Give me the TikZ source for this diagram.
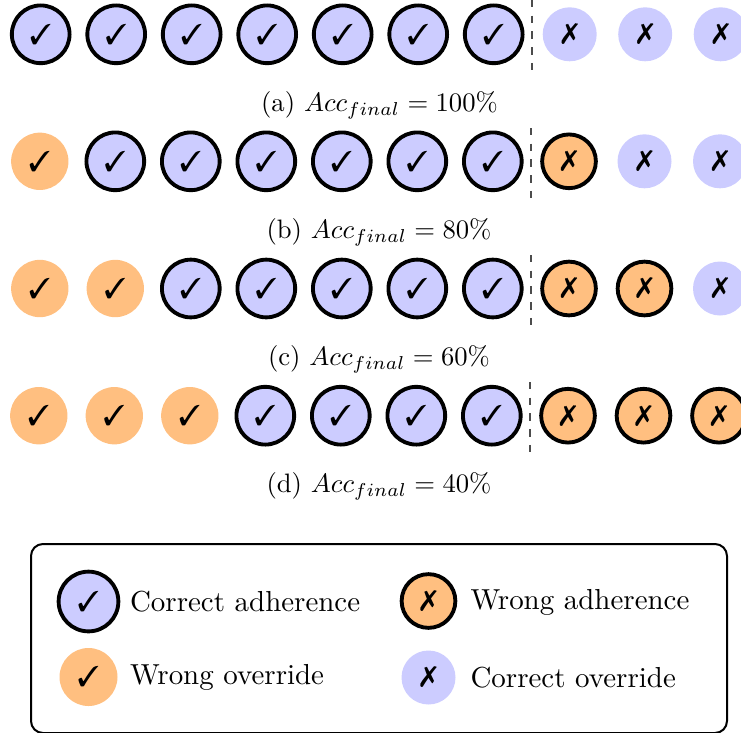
\documentclass[tikz,border=0pt]{standalone}
\usepackage{pifont}
\definecolor{blu}{RGB}{204,204,255}
\definecolor{org}{RGB}{255,191,128}
\tikzset{
  x=0.75pt,y=-0.75pt,
  mk/.style={circle,inner sep=0pt,minimum size=40.5pt,text=black},
  ca/.style={mk,fill=blu,draw=black,line width=2.9pt,minimum size=43.3pt},
  wo/.style={mk,fill=org,minimum size=43pt},
  wa/.style={mk,fill=org,draw=black,line width=2.9pt,minimum size=40.3pt},
  co/.style={mk,fill=blu},
  captxt/.style={anchor=base,inner sep=0pt,scale=2.0,text=black},
  legt/.style={anchor=base west,inner sep=0pt,scale=2.17,text=black},
  sep/.style={draw=black!70,line width=0.8pt,dash pattern=on 5.5pt off 6.3pt}
}
\newcommand{\yes}{\scalebox{2.15}{\ding{51}}}
\newcommand{\no}{\scalebox{2.15}{\ding{55}}}
\begin{document}
\begin{tikzpicture}
\useasboundingbox (0,0) rectangle (741,732);
\clip (0,0) rectangle (741,732);
% row a
\foreach \i in {0,...,6} \node[ca] (a\i) at ({40.7+75.5*\i},34.3) {\yes};
\foreach \i in {0,1,2} \node[co] (ax\i) at ({569.7+75.5*\i},34.3) {\no};
\coordinate (as) at (532,0); \coordinate (ae) at (532,72);
\draw[sep] (as) -- (ae);
\node[captxt] (capa) at (379.5,111.5) {(a) $Acc_{final}=100\%$};
% row b
\node[wo] (b0) at (39.8,161.3) {\yes};
\foreach \i in {1,...,6} \node[ca] (b\i) at ({39.8+75.5*\i},161.3) {\yes};
\node[wa] (bx0) at (569,161.3) {\no};
\foreach \i in {1,2} \node[co] (bx\i) at ({569+75.5*\i},161.3) {\no};
\coordinate (bs) at (531,128); \coordinate (be) at (531,200);
\draw[sep] (bs) -- (be);
\node[captxt] (capb) at (379,238.5) {(b) $Acc_{final}=80\%$};
% row c
\foreach \i in {0,1} \node[wo] (c\i) at ({39.8+75.5*\i},288.5) {\yes};
\foreach \i in {2,...,6} \node[ca] (c\i) at ({39.8+75.5*\i},288.5) {\yes};
\foreach \i in {0,1} \node[wa] (cx\i) at ({569+75.5*\i},288.5) {\no};
\node[co] (cx2) at (720,288.5) {\no};
\coordinate (cs) at (531,255); \coordinate (ce) at (531,327);
\draw[sep] (cs) -- (ce);
\node[captxt] (capc) at (379,365.5) {(c) $Acc_{final}=60\%$};
% row d
\foreach \i in {0,1,2} \node[wo] (d\i) at ({38.8+75.5*\i},415.7) {\yes};
\foreach \i in {3,...,6} \node[ca] (d\i) at ({38.8+75.5*\i},415.7) {\yes};
\foreach \i in {0,1,2} \node[wa] (dx\i) at ({568+75.5*\i},415.7) {\no};
\coordinate (ds) at (530,382); \coordinate (de) at (530,454);
\draw[sep] (ds) -- (de);
\node[captxt] (capd) at (379,492.5) {(d) $Acc_{final}=40\%$};
% legend
\draw[black,line width=1.5pt,rounded corners=9pt] (31,544) rectangle (727,733);
\node[ca,minimum size=44.8pt] (l1) at (88.5,601.5) {\yes};
\node[wo,minimum size=43.5pt] (l2) at (88.5,677) {\yes};
\node[wa] (l3) at (428.5,601) {\no};
\node[co] (l4) at (428.5,677.5) {\no};
\node[legt] (t1) at (129.5,611) {Correct adherence};
\node[legt] (t2) at (129.5,684) {Wrong override};
\node[legt] (t3) at (470,609) {Wrong adherence};
\node[legt] (t4) at (470,687) {Correct override};
\end{tikzpicture}
\end{document}
